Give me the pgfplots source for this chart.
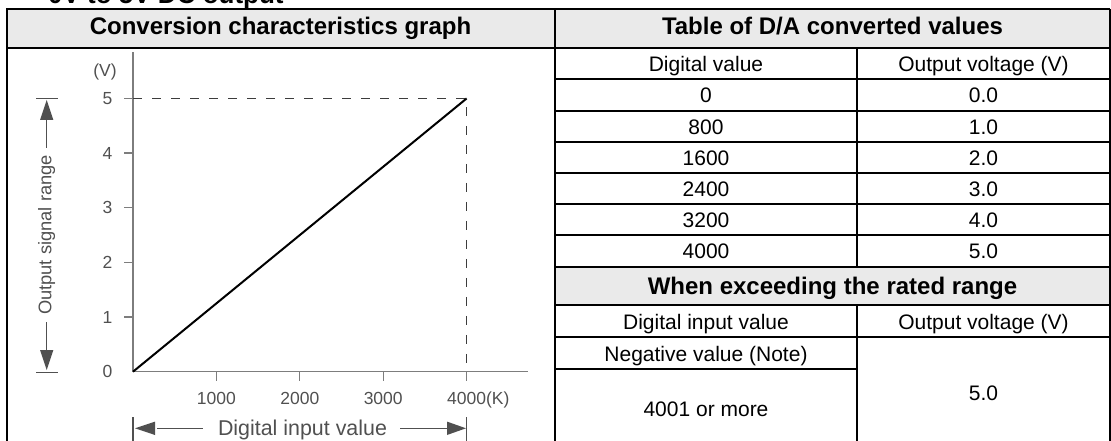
\documentclass[border=0pt]{standalone}
\usepackage{fontspec}
\setmainfont{Liberation Sans}
\usepackage{pgfplots}
\pgfplotsset{compat=1.18}
\definecolor{hdr}{RGB}{234,234,234}
\definecolor{axisgray}{RGB}{125,125,125}
\definecolor{labelgray}{RGB}{80,80,80}
\definecolor{dashgray}{RGB}{60,60,60}
\begin{document}
\begin{tikzpicture}
\useasboundingbox (0pt,0pt) rectangle (1111pt,-441pt);
\begin{scope}[x=1pt,y=-1pt]
% title (cut off at top)
\node[anchor=base west, inner sep=0pt, font=\bfseries\fontsize{26}{30}\selectfont] at (48,4) {0V to 5V DC output};
% header fills
\fill[hdr] (6,9) rectangle (1110,48.3);
\fill[hdr] (555,266.7) rectangle (1110,305);
% lines
\begin{scope}[line width=2pt, black]
\draw[line width=2.5pt] (6,9) -- (1110,9);
\draw (7,9) -- (7,441);
\draw (555,9) -- (555,441);
\draw (1110,9) -- (1110,441);
\draw (6,48.3) -- (1110,48.3);
\foreach \yy in {79,110.7,141.7,172.7,204,235,266.7,305,337.3}{\draw (555,\yy) -- (1110,\yy);}
\draw (555,369) -- (857,369);
\draw (857,48.3) -- (857,266.7);
\draw (857,305) -- (857,441);
\end{scope}
% header texts
\begin{scope}[every node/.style={anchor=base, inner sep=0pt, font=\bfseries\fontsize{24}{28}\selectfont}]
\node at (280.5,35) {Conversion characteristics graph};
\node at (832.5,35) {Table of D/A converted values};
\node at (832.5,294.5) {When exceeding the rated range};
\end{scope}
% body texts
\begin{scope}[every node/.style={anchor=base, inner sep=0pt, font=\fontsize{21}{25}\selectfont}]
\node at (706,71.7) {Digital value};
\node at (983.5,71.7) {Output voltage (V)};
\node at (706,102.9) {0};      \node at (983.5,102.9) {0.0};
\node at (706,134.2) {800};    \node at (983.5,134.2) {1.0};
\node at (706,165.2) {1600};   \node at (983.5,165.2) {2.0};
\node at (706,196.4) {2400};   \node at (983.5,196.4) {3.0};
\node at (706,227.5) {3200};   \node at (983.5,227.5) {4.0};
\node at (706,258.9) {4000};   \node at (983.5,258.9) {5.0};
\node at (706,329.2) {Digital input value};
\node at (983.5,329.2) {Output voltage (V)};
\node at (706,361.2) {Negative value (Note)};
\node at (706,416.7) {4001 or more};
\node at (983.5,400) {5.0};
\end{scope}
% chart annotations
\node[font=\fontsize{17.5}{20}\selectfont, text=labelgray, inner sep=0pt] at (105,71.7) {(V)};
\node[rotate=90, font=\fontsize{18.3}{21}\selectfont, text=labelgray, inner sep=0pt] at (46.7,235) {Output signal range};
\begin{scope}[labelgray, line width=1.2pt]
\draw (46.7,148) -- (46.7,118);
\fill (40,120) -- (53.4,120) -- (46.7,100) -- cycle;
\draw (36,98.3) -- (58,98.3);
\draw (46.7,322) -- (46.7,352);
\fill (40,350) -- (53.4,350) -- (46.7,370) -- cycle;
\draw (36,372.7) -- (58,372.7);
\draw (157,428.3) -- (203,428.3);
\fill (155,421.6) -- (155,435) -- (135,428.3) -- cycle;
\draw (133,417) -- (133,441);
\draw (400,428.3) -- (449,428.3);
\fill (447,421.6) -- (447,435) -- (466,428.3) -- cycle;
\draw (466.7,417) -- (466.7,441);
\end{scope}
\node[anchor=base, inner sep=0pt, font=\fontsize{21.4}{25}\selectfont, text=labelgray] at (302.5,435) {Digital input value};
\end{scope}
\begin{axis}[
  at={(133pt,-371.7pt)}, anchor=south west,
  scale only axis, width=395pt, height=319.7pt,
  xmin=0, xmax=4736, ymin=0, ymax=5.85,
  axis lines=left,
  axis line style={-, draw=axisgray, line width=1.3pt},
  tick align=outside, major tick length=9pt,
  tick style={draw=axisgray, line width=1.3pt},
  xtick={1000,2000,3000,4000},
  xticklabels={1000,2000,3000,4000\rlap{(K)}},
  ytick={1,2,3,4,5},
  yticklabels={1,2,3,4,5},
  extra y ticks={0}, extra y tick labels={0},
  extra y tick style={tick style={draw=none}},
  ticklabel style={font=\fontsize{17.5}{20}\selectfont, text=labelgray},
  xticklabel style={yshift=-8pt},
  yticklabel style={xshift=-8pt},
  clip=false,
]
\addplot[dashgray, line width=1pt, dash pattern=on 9pt off 10pt] coordinates {(0,5) (4000,5) (4000,0)};
\addplot[black, line width=2pt] coordinates {(0,0) (4000,5)};
\end{axis}
\end{tikzpicture}
\end{document}
